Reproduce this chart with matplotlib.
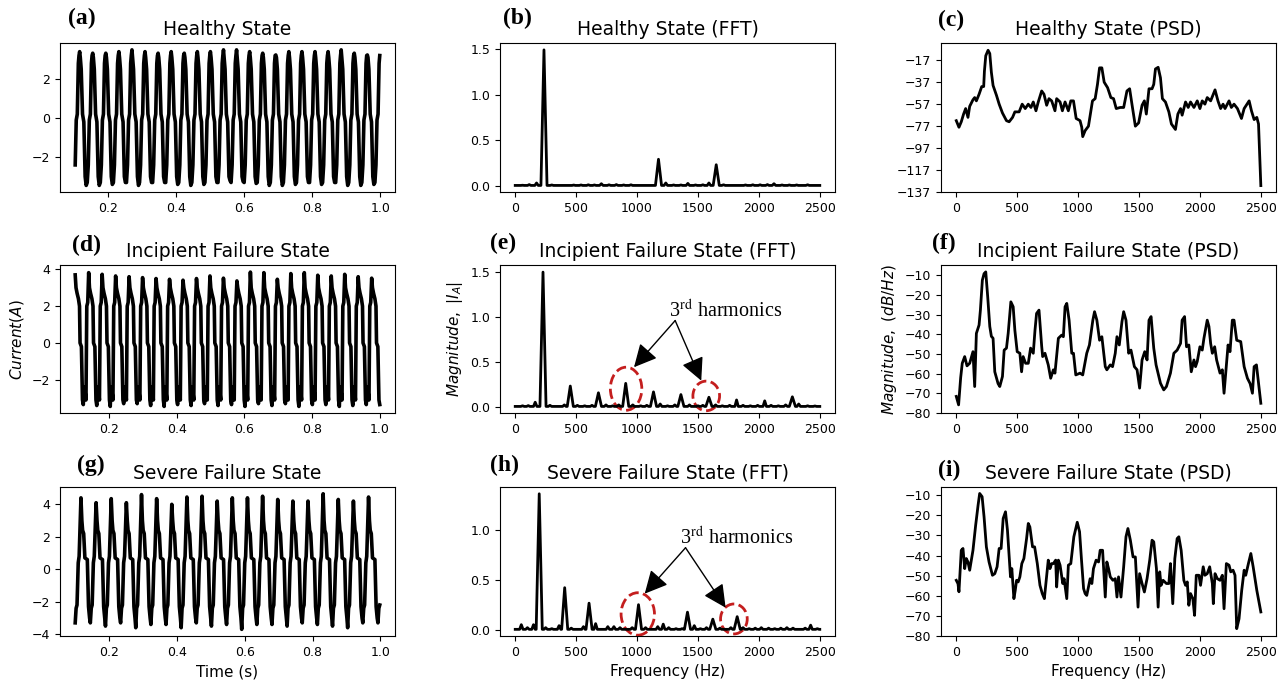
import numpy as np
import matplotlib
matplotlib.use("Agg")
import matplotlib.pyplot as plt
from matplotlib.patches import Ellipse

# ---- time domain: one cycle shape (phase from peak) + per-cycle peaks/troughs
healthy_t0, healthy_period = 0.0770, 0.03846
healthy_phase = [0.00, 0.05, 0.12, 0.22, 0.32, 0.42, 0.50, 0.58, 0.66, 0.74, 0.82, 0.90, 0.95]
healthy_shape = ['P', 3.1, 2.5, 0.2, -0.2, -3.0, 'T', -3.3, -2.4, -0.1, 0.2, 2.8, 3.2]
healthy_peaks = [3.3, 3.4, 3.32, 3.32, 3.4, 3.49, 3.4, 3.32, 3.4, 3.32, 3.4, 3.4, 3.49,
                 3.49, 3.4, 3.32, 3.23, 3.4, 3.4, 3.4, 3.4, 3.49, 3.32, 3.23, 3.2]
healthy_troughs = [-3.45, -3.45, -3.45, -3.4, -3.3, -3.45, -3.3, -3.3, -3.4, -3.45, -3.4, -3.3, -3.2,
                   -3.25, -3.35, -3.45, -3.45, -3.4, -3.3, -3.4, -3.3, -3.45, -3.45, -3.4, -3.4]

incip_t0, incip_period = 0.1000, 0.0398
incip_phase = [0.00, 0.06, 0.14, 0.24, 0.32, 0.36, 0.46, 0.54, 0.60, 0.66, 0.74, 0.80, 0.86, 0.93]
incip_shape = ['P', 3.0, 2.7, 2.4, 2.0, 0.0, -0.2, -3.1, 'T', -2.4, -2.7, -3.1, 2.0, 2.2]
incip_peaks = [3.7, 3.82, 3.73, 3.64, 3.6, 3.55, 3.5, 3.46, 3.41, 3.5, 3.64, 3.52, 3.37,
               3.85, 3.82, 3.46, 3.77, 3.82, 3.68, 3.64, 3.73, 3.6, 3.52]
incip_troughs = [-3.35, -3.4, -3.45, -3.3, -3.3, -3.4, -3.45, -3.35, -3.4, -3.3, -3.4, -3.35,
                 -3.45, -3.3, -3.4, -3.3, -3.45, -3.35, -3.35, -3.45, -3.4, -3.35, -3.35]

severe_t0, severe_period = 0.0729, 0.0446
severe_phase = [0.00, 0.06, 0.11, 0.18, 0.26, 0.42, 0.50, 0.57, 0.62, 0.68, 0.74, 0.82, 0.88]
severe_shape = ['P', 3.0, 2.4, 2.2, 0.7, 0.6, -2.3, -3.0, 'T', -2.4, -2.2, 0.4, 0.8]
severe_peaks = [4.4, 4.4, 4.1, 4.35, 4.1, 4.6, 4.35, 4.0, 4.45, 4.5, 4.2, 4.4, 4.4,
                4.5, 4.3, 4.2, 4.2, 4.65, 4.3, 4.2, 4.45]
severe_troughs = [-3.3, -3.3, -3.5, -3.3, -3.6, -3.4, -3.4, -3.6, -3.3, -3.5, -3.4, -3.7, -3.4,
                  -3.4, -3.5, -3.3, -3.4, -3.5, -3.6, -3.3, -3.3]

# ---- FFT peaks (Hz, |I|)
fft_h_freq = [60, 115, 175, 236, 300, 480, 540, 600, 650, 707, 770, 830, 890, 950, 1176, 1236,
              1300, 1360, 1417, 1480, 1540, 1590, 1650, 1710, 1890, 1950, 2010, 2070, 2124,
              2190, 2250, 2310, 2400]
fft_h_mag = [0.005, 0.012, 0.03, 1.49, 0.008, 0.007, 0.008, 0.01, 0.008, 0.022, 0.01, 0.012,
             0.008, 0.01, 0.29, 0.03, 0.008, 0.008, 0.025, 0.008, 0.01, 0.03, 0.23, 0.01, 0.008,
             0.01, 0.01, 0.012, 0.022, 0.008, 0.008, 0.008, 0.01]

fft_i_freq = [60, 107, 164, 228, 285, 403, 452, 510, 570, 630, 683, 745, 800, 850, 907, 965,
              1030, 1080, 1135, 1190, 1250, 1310, 1360, 1430, 1500, 1540, 1590, 1645, 1700,
              1760, 1817, 1870, 1930, 1990, 2048, 2100, 2160, 2220, 2275, 2327, 2400, 2460]
fft_i_mag = [0.01, 0.012, 0.05, 1.50, 0.015, 0.02, 0.23, 0.015, 0.01, 0.015, 0.155, 0.02, 0.01,
             0.02, 0.26, 0.02, 0.01, 0.015, 0.165, 0.03, 0.01, 0.02, 0.135, 0.02, 0.01, 0.015,
             0.105, 0.02, 0.01, 0.015, 0.075, 0.015, 0.01, 0.015, 0.065, 0.015, 0.01, 0.02,
             0.11, 0.03, 0.01, 0.008]

fft_s_freq = [50, 100, 150, 197, 250, 300, 360, 406, 460, 560, 606, 660, 760, 810, 860, 960,
              1012, 1070, 1170, 1215, 1260, 1320, 1370, 1414, 1470, 1520, 1570, 1622, 1680,
              1770, 1822, 1870, 1920, 1970, 2020, 2080, 2130, 2180, 2230, 2280, 2380, 2425, 2480]
fft_s_mag = [0.05, 0.02, 0.05, 1.36, 0.02, 0.01, 0.04, 0.42, 0.015, 0.03, 0.265, 0.06, 0.03,
             0.03, 0.02, 0.02, 0.25, 0.02, 0.03, 0.055, 0.02, 0.01, 0.01, 0.175, 0.04, 0.01,
             0.02, 0.105, 0.015, 0.02, 0.13, 0.02, 0.01, 0.015, 0.02, 0.015, 0.01, 0.015, 0.02,
             0.015, 0.015, 0.045, 0.01]

# ---- PSD traces (Hz, dB/Hz)
psd_h_freq = [0, 22, 41, 60, 77, 96, 110, 137, 151, 165, 187, 209, 225, 231, 242, 261, 275, 288,
              302, 330, 352, 379, 412, 434, 462, 481, 516, 541, 566, 591, 613, 632, 654, 673,
              701, 720, 742, 761, 783, 810, 824, 852, 871, 893, 920, 940, 962, 984, 1016, 1030,
              1038, 1058, 1085, 1118, 1140, 1159, 1176, 1195, 1214, 1242, 1269, 1291, 1313,
              1346, 1374, 1401, 1423, 1442, 1470, 1497, 1525, 1544, 1560, 1582, 1607, 1621,
              1635, 1657, 1676, 1692, 1717, 1745, 1766, 1799, 1819, 1841, 1854, 1882, 1904,
              1923, 1951, 1978, 2000, 2019, 2041, 2060, 2088, 2124, 2148, 2170, 2190, 2206,
              2239, 2258, 2280, 2308, 2341, 2363, 2404, 2423, 2445, 2467, 2481, 2500]
psd_h_db = [-72, -78, -73, -66, -61, -69, -59, -53, -51, -54, -48, -41, -41, -27, -13, -8, -11,
            -28, -40, -49, -57, -65, -72, -73, -69, -64, -64, -57, -61, -57, -60, -55, -63, -55,
            -45, -48, -58, -52, -54, -63, -52, -55, -63, -55, -63, -54, -54, -70, -72, -78,
            -86.5, -81, -77, -54, -52, -39, -24, -24, -37, -42, -51, -52, -61, -60, -60, -45,
            -43, -57, -77, -74, -58, -54, -66, -43, -43, -39, -25, -23.5, -33, -52, -55, -64,
            -75, -80, -66, -61, -67, -55, -60, -55, -60, -54, -61, -54, -57, -51, -54, -44,
            -54, -61, -57, -61, -54, -60, -57, -61, -70, -61, -54, -63, -71, -69, -75, -131]

psd_i_freq = [0, 19, 36, 49, 69, 88, 110, 137, 151, 165, 187, 198, 214, 228, 242, 258, 275, 288,
              302, 316, 343, 357, 379, 393, 412, 426, 448, 467, 481, 500, 522, 536, 549, 569,
              591, 610, 632, 646, 659, 679, 701, 709, 728, 755, 775, 797, 810, 838, 865, 879,
              893, 907, 926, 948, 962, 981, 1016, 1038, 1071, 1093, 1121, 1135, 1154, 1176,
              1195, 1223, 1236, 1264, 1283, 1305, 1319, 1338, 1360, 1374, 1393, 1415, 1434,
              1462, 1484, 1505, 1525, 1547, 1566, 1582, 1599, 1621, 1640, 1676, 1703, 1725,
              1758, 1786, 1813, 1841, 1854, 1874, 1890, 1909, 1929, 1951, 1964, 1978, 2000,
              2019, 2033, 2060, 2074, 2088, 2102, 2121, 2137, 2165, 2184, 2198, 2212, 2231,
              2247, 2266, 2280, 2302, 2335, 2363, 2390, 2412, 2431, 2445, 2464, 2500]
psd_i_db = [-71.5, -75.8, -62, -54.7, -51.3, -56, -54.7, -48.8, -66.5, -39.5, -35.3, -27.7,
            -12.5, -9.2, -8.3, -21, -36, -41, -42, -59, -65, -66.5, -61.4, -48, -47, -39.5,
            -23.5, -26, -38, -48.8, -49.6, -59, -51.3, -54.7, -54.7, -47, -49.6, -38, -29.4,
            -27.7, -46, -51.3, -49.6, -55.5, -62.3, -58, -59.7, -42, -40.4, -41.2, -26, -24.3,
            -32.8, -49.6, -49.6, -60.6, -59.7, -60.6, -49.6, -45.4, -32.8, -28.5, -32.8, -43,
            -41.2, -56.4, -58, -55.5, -56.4, -49.6, -41.2, -45.4, -33.6, -28.5, -32.8, -49.6,
            -48, -56.4, -58, -67.3, -53, -48.8, -53, -32.8, -31, -47, -55.5, -64.8, -68.2,
            -66.5, -59.7, -49.6, -48, -44.6, -32.8, -31, -46.3, -45.4, -59, -53, -56.4, -53.8,
            -46.3, -48, -42, -32.8, -36, -44.6, -49.6, -46.3, -53, -59.7, -58, -69.9, -59.7,
            -45.4, -48.8, -32.8, -32.8, -43, -43.7, -56.4, -62.3, -65, -69.9, -56.4, -55.5, -75]

psd_s_freq = [0, 14, 22, 41, 55, 69, 82, 96, 110, 137, 159, 179, 192, 212, 228, 247, 269, 297,
              316, 335, 352, 368, 385, 404, 420, 431, 445, 456, 473, 484, 495, 508, 522, 538,
              555, 577, 591, 604, 626, 643, 665, 687, 706, 723, 742, 755, 769, 783, 797, 816,
              824, 838, 852, 874, 885, 907, 920, 940, 965, 993, 1012, 1028, 1045, 1058, 1071,
              1099, 1113, 1126, 1148, 1168, 1181, 1201, 1223, 1236, 1250, 1264, 1286, 1305,
              1319, 1332, 1352, 1374, 1393, 1409, 1429, 1451, 1470, 1492, 1505, 1525, 1544,
              1566, 1588, 1607, 1621, 1643, 1657, 1670, 1681, 1698, 1725, 1745, 1758, 1777,
              1794, 1813, 1827, 1846, 1868, 1882, 1896, 1909, 1923, 1942, 1956, 1970, 1992,
              2005, 2027, 2041, 2060, 2080, 2102, 2110, 2124, 2143, 2165, 2184, 2198, 2217,
              2239, 2253, 2272, 2288, 2302, 2321, 2343, 2363, 2376, 2398, 2418, 2437, 2467, 2500]
psd_s_db = [-52.3, -54, -58, -37.4, -36.5, -46.5, -41.5, -43.2, -47.3, -37.4, -25, -15, -9.2,
            -10.8, -20.8, -35.7, -43.2, -49.8, -49, -45.6, -36.5, -36.5, -21.6, -18.3, -27.4,
            -37.4, -50.6, -46.5, -61.4, -57.3, -52.3, -53.1, -50.6, -44, -41.5, -31.6, -24.1,
            -25.8, -35.7, -35.7, -44, -54.8, -58.9, -61.4, -49.8, -42.3, -46.5, -44, -44,
            -42.3, -55.6, -42.3, -44.8, -53.9, -51.5, -61.4, -44.8, -44, -30.7, -23.5,
            -28.2, -42.3, -56.4, -58.9, -59.8, -51.5, -53.9, -46.5, -42.3, -43.2, -37.4, -37.4,
            -60.6, -43.2, -46.5, -50.6, -52.3, -51.5, -60.6, -50.6, -60.6, -45.6, -30.7, -26.6,
            -32.4, -40.7, -40.7, -65.6, -49, -53.9, -58.1, -51.5, -42.3, -32.4, -33.2, -46.5,
            -65.6, -48.1, -54.8, -52.3, -53.9, -53.9, -44, -63.9, -41.5, -31.6, -30.7, -37.4,
            -52.3, -54.8, -53.1, -64.7, -58.9, -61.4, -69.7, -49.8, -49.8, -54.8, -45.6, -49.8,
            -49, -45.6, -53.9, -63.9, -49, -51.5, -52.3, -49.8, -66.4, -44, -44.8, -48.1, -47.3,
            -49.8, -76.3, -71.4, -57.3, -47.3, -49.8, -44, -39, -45.6, -57.3, -68]

titles = ["Healthy State", "Healthy State (FFT)", "Healthy State (PSD)",
          "Incipient Failure State", "Incipient Failure State (FFT)", "Incipient Failure State (PSD)",
          "Severe Failure State", "Severe Failure State (FFT)", "Severe Failure State (PSD)"]
letters = ["(a)", "(b)", "(c)", "(d)", "(e)", "(f)", "(g)", "(h)", "(i)"]


def waveform(t0, period, phase, shape, peaks, troughs):
    t, y = [], []
    for k, (p, tr) in enumerate(zip(peaks, troughs)):
        for ph, v in zip(phase, shape):
            t.append(t0 + (k + ph) * period)
            y.append(p if v == 'P' else (tr if v == 'T' else v))
    t = np.array(t)
    y = np.array(y, dtype=float)
    keep = (t >= 0.1 - 1e-9) & (t <= 1.0 + 1e-9)
    return t[keep], y[keep]


def spectrum(freqs, mags):
    x, y = [0.0], [0.003]
    for f, m in zip(freqs, mags):
        hw = 25 if m > 0.1 else 14
        x += [f - hw, f, f + hw]
        y += [0.003, m, 0.003]
    x.append(2500.0)
    y.append(0.003)
    return x, y


fig = plt.figure(figsize=(12.87, 6.84), dpi=100)
col_x = [0.0466, 0.3885, 0.7312]
row_y = [(0.719, 0.218), (0.396, 0.216), (0.070, 0.218)]
axes = [[fig.add_axes([cx, ry, 0.2603, rh]) for cx in col_x] for ry, rh in row_y]

lw = 2.0
waves = [(healthy_t0, healthy_period, healthy_phase, healthy_shape, healthy_peaks, healthy_troughs),
         (incip_t0, incip_period, incip_phase, incip_shape, incip_peaks, incip_troughs),
         (severe_t0, severe_period, severe_phase, severe_shape, severe_peaks, severe_troughs)]
ffts = [(fft_h_freq, fft_h_mag), (fft_i_freq, fft_i_mag), (fft_s_freq, fft_s_mag)]
psds = [(psd_h_freq, psd_h_db), (psd_i_freq, psd_i_db), (psd_s_freq, psd_s_db)]

for r in range(3):
    t, y = waveform(*waves[r])
    axes[r][0].plot(t, y, color='black', lw=2.6)
    fx, fy = spectrum(*ffts[r])
    axes[r][1].plot(fx, fy, color='black', lw=lw)
    axes[r][2].plot(psds[r][0], psds[r][1], color='black', lw=lw)

for r in range(3):
    for c in range(3):
        ax = axes[r][c]
        ax.set_title(titles[3 * r + c], fontsize=13.5, pad=6)
        ax.tick_params(labelsize=9, length=3.5, width=0.8)
        for s in ax.spines.values():
            s.set_linewidth(0.8)
    axes[r][0].set_xticks([0.2, 0.4, 0.6, 0.8, 1.0])
    axes[r][1].set_xticks([0, 500, 1000, 1500, 2000, 2500])
    axes[r][2].set_xticks([0, 500, 1000, 1500, 2000, 2500])

axes[0][0].set_yticks([-2, 0, 2])
axes[1][0].set_yticks([-2, 0, 2, 4])
axes[2][0].set_yticks([-4, -2, 0, 2, 4])
axes[0][1].set_yticks([0.0, 0.5, 1.0, 1.5])
axes[1][1].set_yticks([0.0, 0.5, 1.0, 1.5])
axes[2][1].set_yticks([0.0, 0.5, 1.0])

axes[0][2].set_ylim(-137, -1.5)
axes[0][2].set_yticks(list(range(-137, -16, 20)))
axes[1][2].set_ylim(-80, -5)
axes[1][2].set_yticks(list(range(-80, -9, 10)))
axes[2][2].set_ylim(-80, -6)
axes[2][2].set_yticks(list(range(-80, -9, 10)))

axes[1][0].set_ylabel('$Current(A)$', fontsize=11)
axes[1][1].set_ylabel('$Magnitude,\\ |I_A|$', fontsize=11)
axes[1][2].set_ylabel('$Magnitude,\\ (dB/Hz)$', fontsize=11)
axes[2][0].set_xlabel('Time (s)', fontsize=11)
axes[2][1].set_xlabel('Frequency (Hz)', fontsize=11)
axes[2][2].set_xlabel('Frequency (Hz)', fontsize=11)

# panel letters
letter_pos = [(68, 18), (503, 18), (938, 20), (72, 245), (490, 243), (932, 243),
              (77, 465), (490, 465), (938, 470)]
for lab, (px, py) in zip(letters, letter_pos):
    fig.text(px / 1287, 1 - py / 684, lab, fontsize=17, fontweight='bold',
             family='Liberation Serif', va='center', ha='left')

# 3rd harmonics annotations
red = '#c41e1e'
arrow = dict(arrowstyle='-|>,head_length=0.7,head_width=0.35', mutation_scale=20,
             color='black', lw=1.0, shrinkA=0, shrinkB=0)
ax = axes[1][1]
ax.text(1266, 1.0, '3$^{\\mathrm{rd}}$ harmonics', fontsize=14.5, family='Liberation Serif',
        math_fontfamily='stix', ha='left', va='baseline')
for tip in [(975, 0.44), (1527, 0.29)]:
    ax.annotate('', xy=tip, xytext=(1313, 0.96), arrowprops=arrow)
ax.add_patch(Ellipse((910, 0.20), 258, 0.48, fill=False, ec=red, ls='--', lw=2))
ax.add_patch(Ellipse((1568, 0.12), 219, 0.33, fill=False, ec=red, ls='--', lw=2))

ax = axes[2][1]
ax.text(1354, 0.85, '3$^{\\mathrm{rd}}$ harmonics', fontsize=14.5, family='Liberation Serif',
        math_fontfamily='stix', ha='left', va='baseline')
for tip in [(1063, 0.36), (1727, 0.22)]:
    ax.annotate('', xy=tip, xytext=(1398, 0.82), arrowprops=arrow)
ax.add_patch(Ellipse((1006, 0.157), 274, 0.425, fill=False, ec=red, ls='--', lw=2))
ax.add_patch(Ellipse((1795, 0.107), 219, 0.30, fill=False, ec=red, ls='--', lw=2))

fig.savefig('out.png', dpi=100)
